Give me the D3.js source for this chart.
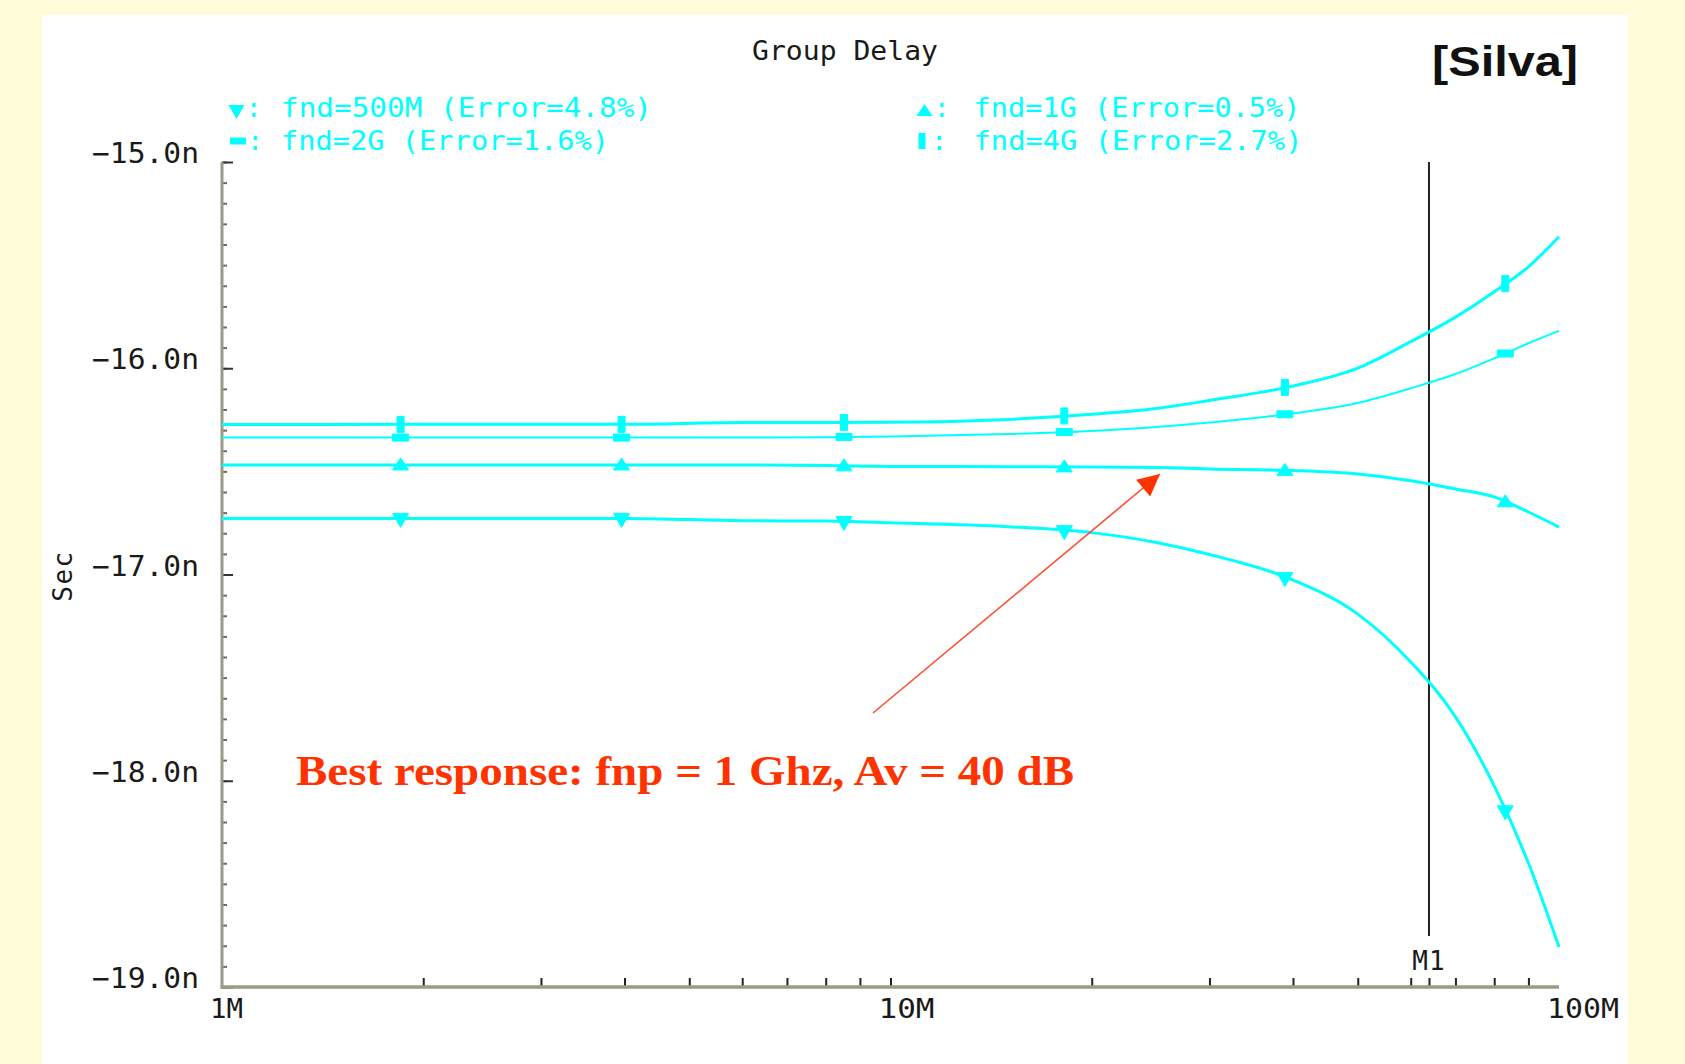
<!DOCTYPE html>
<html>
<head>
<meta charset="utf-8">
<script src="https://cdn.jsdelivr.net/npm/d3@7/dist/d3.min.js"></script>
<style>
  body { margin: 0; background: #fffcd9; }
  svg { display: block; }
  .mono { font-family: "DejaVu Sans Mono", monospace; }
</style>
</head>
<body>
<div id="chart"></div>
<script>

// frequency points (MHz) and group delay values (ns)
const freqMHz = [1, 2, 4, 6, 8, 10, 15, 20, 25, 30, 40, 50, 60, 70, 80, 90, 100];
const delay500M = [-16.728, -16.728, -16.728, -16.739, -16.741, -16.749, -16.768, -16.797, -16.845, -16.903, -17.027, -17.192, -17.424, -17.690, -18.025, -18.399, -18.806];
const delay1G = [-16.469, -16.469, -16.469, -16.469, -16.472, -16.476, -16.477, -16.479, -16.481, -16.488, -16.496, -16.513, -16.545, -16.585, -16.624, -16.697, -16.770];
const delay2G = [-16.336, -16.336, -16.336, -16.336, -16.334, -16.331, -16.319, -16.304, -16.285, -16.263, -16.219, -16.168, -16.097, -16.028, -15.952, -15.879, -15.819];
const delay4G = [-16.273, -16.272, -16.272, -16.263, -16.263, -16.262, -16.248, -16.223, -16.195, -16.156, -16.086, -15.999, -15.871, -15.752, -15.629, -15.508, -15.362];

const seriesNames = ["fnd=500M (Error=4.8%)", "fnd=1G (Error=0.5%)", "fnd=2G (Error=1.6%)", "fnd=4G (Error=2.7%)"];
const markerMHz = [1.85, 3.96, 8.52, 18.2, 38.9, 83.1];
const yTickValues = [-15, -16, -17, -18, -19];
const yTickLabels = ["\u221215.0n", "\u221216.0n", "\u221217.0n", "\u221218.0n", "\u221219.0n"];
const xTickValues = [1, 10, 100];
const xTickLabels = ["1M", "10M", "100M"];
const m1MHz = 63.9;

const width = 1685,
    height = 1064,
    margin = ({ top: 162, right: 126, bottom: 77, left: 222 });

const cyan = "#00ffff";

let svg = d3.select("#chart")
    .append("svg")
    .attr("width", width)
    .attr("height", height);

// slide background + white panel
svg.append("rect").attr("width", width).attr("height", height).attr("fill", "#fffcd9");
svg.append("rect").attr("x", 42).attr("y", 15).attr("width", 1586).attr("height", height - 15).attr("fill", "#ffffff");

let x = d3.scaleLog()
    .domain([1, 100])
    .range([margin.left, width - margin.right]);

let y = d3.scaleLinear()
    .domain([-19, -15])
    .range([height - margin.bottom, margin.top]);

// y axis: minor ticks every 0.1n, major every 1n
let minorY = d3.range(41).map(i => -19 + i * 0.1);
svg.append("g")
    .attr("transform", `translate(${margin.left},0)`)
    .call(d3.axisRight(y).tickValues(minorY).tickSize(5).tickFormat(""))
    .call(g => g.select(".domain").remove())
    .selectAll("line").attr("stroke", "#6b6b60").attr("stroke-width", 2);

svg.append("g")
    .attr("transform", `translate(${margin.left},0)`)
    .call(d3.axisRight(y).tickValues(yTickValues).tickSize(11).tickFormat(""))
    .call(g => g.select(".domain").remove())
    .selectAll("line").attr("stroke", "#333333").attr("stroke-width", 2);

// x axis ticks point up into the plot
let minorX = [2, 3, 4, 5, 6, 7, 8, 9, 10, 20, 30, 40, 50, 60, 70, 80, 90, m1MHz];
svg.append("g")
    .attr("transform", `translate(0,${height - margin.bottom})`)
    .call(d3.axisTop(x).tickValues(minorX).tickSize(9).tickFormat(""))
    .call(g => g.select(".domain").remove())
    .selectAll("line").attr("stroke", "#222222").attr("stroke-width", 2);

// axis lines
svg.append("line")
    .attr("x1", margin.left).attr("x2", margin.left)
    .attr("y1", y(-15)).attr("y2", y(-19) + 1.5)
    .attr("stroke", "#9c9a86").attr("stroke-width", 3);
svg.append("line")
    .attr("x1", margin.left - 1.5).attr("x2", x(100))
    .attr("y1", y(-19)).attr("y2", y(-19))
    .attr("stroke", "#9c9a86").attr("stroke-width", 3.5);

// y tick labels
svg.append("g").selectAll("text")
    .data(yTickValues)
    .join("text")
    .attr("class", "mono")
    .attr("x", 92)
    .attr("y", d => y(d) + 1)
    .attr("textLength", 107)
    .attr("lengthAdjust", "spacingAndGlyphs")
    .attr("font-size", 28)
    .attr("fill", "#1a1a1a")
    .text((d, i) => yTickLabels[i]);

// x tick labels
let xLabelWidths = [33, 56, 72];
svg.append("g").selectAll("text")
    .data(xTickValues)
    .join("text")
    .attr("class", "mono")
    .attr("x", d => x(d) - 12)
    .attr("y", 1018)
    .attr("textLength", (d, i) => xLabelWidths[i])
    .attr("lengthAdjust", "spacingAndGlyphs")
    .attr("font-size", 27)
    .attr("fill", "#1a1a1a")
    .text((d, i) => xTickLabels[i]);

// y axis title
svg.append("text")
    .attr("class", "mono")
    .attr("transform", "translate(72,576) rotate(-90)")
    .attr("text-anchor", "middle")
    .attr("font-size", 26)
    .attr("letter-spacing", 1.5)
    .attr("fill", "#1a1a1a")
    .text("Sec");

// chart title
svg.append("text")
    .attr("class", "mono")
    .attr("x", 752)
    .attr("y", 60)
    .attr("textLength", 186)
    .attr("lengthAdjust", "spacingAndGlyphs")
    .attr("font-size", 26)
    .attr("fill", "#1a1a1a")
    .text("Group Delay");

svg.append("text")
    .attr("x", 1432)
    .attr("y", 76)
    .attr("textLength", 146)
    .attr("lengthAdjust", "spacingAndGlyphs")
    .attr("font-family", "Liberation Sans, Arial, sans-serif")
    .attr("font-weight", "bold")
    .attr("font-size", 42)
    .attr("fill", "#111111")
    .text("[Silva]");

// M1 marker
svg.append("line")
    .attr("x1", x(m1MHz)).attr("x2", x(m1MHz))
    .attr("y1", y(-15)).attr("y2", 936)
    .attr("stroke", "#222222").attr("stroke-width", 2);
svg.append("text")
    .attr("class", "mono")
    .attr("x", x(m1MHz))
    .attr("y", 970)
    .attr("text-anchor", "middle")
    .attr("font-size", 26)
    .attr("letter-spacing", 1)
    .attr("fill", "#1a1a1a")
    .text("M1");

// series
let series = [
    { name: seriesNames[0], values: delay500M, shape: "down", lw: 3 },
    { name: seriesNames[1], values: delay1G, shape: "up", lw: 3 },
    { name: seriesNames[2], values: delay2G, shape: "wide", lw: 2 },
    { name: seriesNames[3], values: delay4G, shape: "tall", lw: 3 }
];

function symbolPath(shape) {
    if (shape === "down") return "M-8,-5L8,-5L0,9Z";
    if (shape === "up") return "M-8,5L8,5L0,-7Z";
    if (shape === "wide") return "M-8,-3.5H8V3.5H-8Z";
    return "M-3.5,-8H3.5V8H-3.5Z";
}

// value on the curve at a marker frequency (log-x)
function valueAt(values, f) {
    let i = d3.bisectRight(freqMHz, f) - 1;
    i = Math.max(0, Math.min(freqMHz.length - 2, i));
    let t = (Math.log(f) - Math.log(freqMHz[i])) / (Math.log(freqMHz[i + 1]) - Math.log(freqMHz[i]));
    return values[i] + t * (values[i + 1] - values[i]);
}

let line = d3.line()
    .x(d => x(d[0]))
    .y(d => y(d[1]))
    .curve(d3.curveMonotoneX);

let sg = svg.selectAll(".series")
    .data(series)
    .join("g")
    .attr("class", "series");

sg.append("path")
    .attr("d", s => line(freqMHz.map((f, i) => [f, s.values[i]])))
    .attr("fill", "none")
    .attr("stroke", cyan)
    .attr("stroke-width", s => s.lw);

sg.each(function (s) {
    d3.select(this).selectAll(".mk")
        .data(markerMHz)
        .join("path")
        .attr("class", "mk")
        .attr("transform", f => `translate(${x(f)},${y(valueAt(s.values, f))})`)
        .attr("d", symbolPath(s.shape))
        .attr("fill", cyan)
        .attr("stroke", cyan)
        .attr("stroke-width", 1);
});

// legend
let legendPos = [
    { sx: 236.5, sy: 110, tx: 281, ty: 117, len: 371 },
    { sx: 924.5, sy: 111, tx: 973.5, ty: 117, len: 327 },
    { sx: 238, sy: 141, tx: 281, ty: 150, len: 328 },
    { sx: 922, sy: 141, tx: 973.5, ty: 150, len: 329 }
];

let lg = svg.selectAll(".legend")
    .data(series)
    .join("g")
    .attr("class", "legend");

lg.append("path")
    .attr("transform", (s, i) => `translate(${legendPos[i].sx},${legendPos[i].sy})`)
    .attr("d", s => symbolPath(s.shape))
    .attr("fill", cyan);

lg.append("text")
    .attr("class", "mono")
    .attr("x", (s, i) => legendPos[i].sx + 17)
    .attr("y", (s, i) => legendPos[i].ty)
    .attr("text-anchor", "middle")
    .attr("font-size", 26)
    .attr("fill", cyan)
    .text(":");

lg.append("text")
    .attr("class", "mono")
    .attr("x", (s, i) => legendPos[i].tx)
    .attr("y", (s, i) => legendPos[i].ty)
    .attr("textLength", (s, i) => legendPos[i].len)
    .attr("lengthAdjust", "spacingAndGlyphs")
    .attr("font-size", 27)
    .attr("fill", cyan)
    .text(s => s.name);

// annotation arrow and note
svg.append("defs").append("marker")
    .attr("id", "arrow")
    .attr("viewBox", "0 0 10 10")
    .attr("refX", 10).attr("refY", 5)
    .attr("markerWidth", 30).attr("markerHeight", 22)
    .attr("markerUnits", "userSpaceOnUse")
    .attr("orient", "auto")
    .append("path")
    .attr("d", "M0,0L10,5L0,10Z")
    .attr("fill", "#ff3300");

svg.append("line")
    .attr("x1", 873).attr("y1", 713)
    .attr("x2", 1160).attr("y2", 474)
    .attr("stroke", "#ff4a30")
    .attr("stroke-width", 1.6)
    .attr("marker-end", "url(#arrow)");

svg.append("text")
    .attr("x", 296)
    .attr("y", 785)
    .attr("textLength", 778)
    .attr("lengthAdjust", "spacingAndGlyphs")
    .attr("font-family", "Liberation Serif, 'Times New Roman', serif")
    .attr("font-weight", "bold")
    .attr("font-size", 42)
    .attr("fill", "#ff3300")
    .text("Best response: fnp = 1 Ghz, Av = 40 dB");

</script>
</body>
</html>
